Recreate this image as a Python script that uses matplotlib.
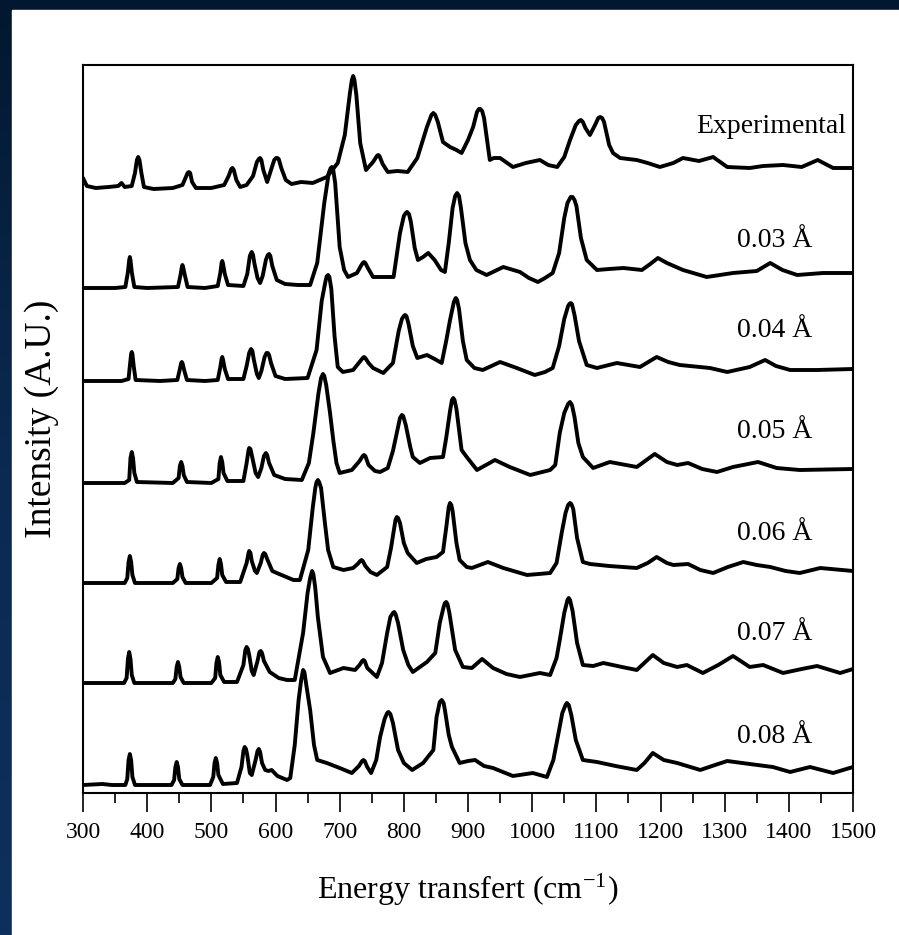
import numpy as np
import matplotlib.pyplot as plt
from matplotlib.patches import Rectangle
from matplotlib.colors import LinearSegmentedColormap
from matplotlib.ticker import MultipleLocator

plt.rcParams['font.family'] = ['Liberation Serif', 'DejaVu Serif']
plt.rcParams['mathtext.fontset'] = 'stix'

# (wavenumber cm-1, intensity above the curve's own baseline)
exp_pts = [(300, 10), (306, 2), (320, 0), (340, 1), (355, 2), (360, 5), (365, 1), (376, 2), (381, 15), (384, 28),
           (386, 31), (388, 28), (391, 15), (395, 1), (410, -1), (440, 0), (455, 3), (461, 12), (463, 15), (465, 16),
           (467, 15), (470, 6), (476, 0), (500, 0), (520, 3), (527, 12), (531, 19), (533, 20), (535, 18), (539, 8),
           (545, 1), (555, 3), (565, 12), (571, 26), (574, 29), (576, 30), (578, 28), (581, 18), (587, 6), (592, 16),
           (598, 28), (601, 30), (603, 30), (605, 29), (609, 20), (616, 8), (625, 4), (640, 6), (658, 5), (680, 11),
           (697, 25), (708, 53), (716, 95), (719, 108), (721, 112), (723, 108), (726, 93), (732, 45), (741, 18),
           (752, 26), (758, 32), (760, 33), (762, 32), (767, 24), (775, 16), (790, 17), (806, 16), (821, 30),
           (836, 61), (843, 73), (846, 75), (849, 73), (853, 66), (861, 46), (872, 41), (882, 38), (890, 35),
           (900, 48), (908, 61), (914, 76), (917, 79), (919, 79), (922, 77), (925, 70), (934, 28), (940, 30),
           (950, 30), (970, 21), (990, 25), (1012, 28), (1025, 23), (1039, 21), (1050, 31), (1059, 48), (1068, 63),
           (1073, 67), (1076, 68), (1079, 66), (1083, 60), (1090, 53), (1098, 63), (1103, 70), (1106, 71),
           (1109, 70), (1112, 66), (1120, 43), (1126, 35), (1137, 30), (1163, 28), (1180, 25), (1199, 21),
           (1220, 25), (1235, 30), (1260, 27), (1282, 31), (1304, 21), (1339, 20), (1360, 22), (1391, 23),
           (1420, 21), (1445, 28), (1469, 20), (1500, 20)]

s003_pts = [(300, 0), (350, 0), (366, 1), (370, 16), (372, 28), (373, 31), (374, 28), (376, 16), (380, 1), (400, 0),
            (448, 1), (452, 13), (454, 21), (455, 23), (456, 21), (459, 12), (463, 1), (490, 0), (510, 2), (514, 15),
            (516, 25), (517, 27), (518, 25), (521, 14), (526, 3), (550, 2), (556, 14), (560, 32), (562, 35),
            (563, 36), (565, 33), (567, 25), (572, 10), (576, 5), (580, 12), (585, 28), (588, 33), (590, 34),
            (592, 32), (595, 22), (602, 8), (615, 4), (635, 3), (654, 3), (665, 25), (676, 85), (683, 115),
            (686, 120), (688, 121), (690, 118), (693, 105), (700, 41), (707, 18), (713, 11), (727, 15), (733, 22),
            (736, 25), (738, 26), (740, 25), (744, 20), (752, 11), (770, 11), (784, 11), (794, 55), (800, 72),
            (803, 75), (805, 76), (808, 74), (811, 66), (817, 40), (822, 28), (830, 31), (838, 35), (848, 28),
            (858, 18), (864, 16), (870, 45), (876, 80), (880, 92), (883, 95), (886, 92), (889, 80), (896, 45),
            (903, 28), (913, 18), (929, 13), (955, 21), (981, 16), (995, 10), (1009, 6), (1020, 10), (1032, 15),
            (1042, 35), (1050, 70), (1055, 85), (1060, 91), (1063, 91), (1066, 88), (1069, 82), (1076, 50),
            (1085, 28), (1101, 18), (1120, 19), (1142, 20), (1171, 18), (1184, 24), (1196, 30), (1210, 25),
            (1235, 18), (1272, 11), (1313, 15), (1350, 17), (1371, 25), (1390, 18), (1413, 13), (1453, 15),
            (1500, 15)]

s004_pts = [(300, 0), (360, 0), (371, 2), (373, 15), (375, 27), (376, 29), (377, 27), (379, 15), (382, 1), (420, 0),
            (447, 1), (451, 12), (453, 18), (454, 19), (455, 18), (458, 10), (462, 1), (490, 0), (510, 1), (514, 14),
            (516, 22), (517, 24), (518, 22), (521, 12), (526, 2), (550, 2), (555, 15), (559, 28), (561, 31),
            (562, 32), (564, 30), (566, 22), (571, 7), (574, 3), (578, 10), (583, 24), (586, 28), (588, 28),
            (590, 26), (593, 18), (600, 5), (615, 2), (650, 3), (664, 31), (672, 80), (678, 100), (680, 105),
            (682, 106), (684, 104), (687, 92), (692, 45), (697, 14), (705, 9), (721, 11), (731, 19), (736, 23),
            (738, 24), (740, 23), (745, 18), (752, 13), (768, 8), (783, 18), (792, 50), (797, 62), (800, 65),
            (802, 66), (804, 65), (807, 58), (814, 35), (821, 23), (836, 26), (848, 22), (859, 18), (866, 40),
            (872, 61), (878, 79), (880, 82), (881, 83), (883, 81), (886, 72), (892, 40), (898, 21), (910, 13),
            (923, 11), (950, 19), (976, 13), (1004, 6), (1020, 9), (1032, 13), (1042, 35), (1050, 62), (1056, 75),
            (1058, 77), (1060, 78), (1062, 77), (1066, 66), (1073, 40), (1085, 16), (1101, 13), (1132, 18),
            (1168, 14), (1194, 24), (1212, 19), (1230, 16), (1277, 13), (1304, 9), (1339, 14), (1363, 21),
            (1380, 15), (1402, 11), (1444, 11), (1500, 12)]

s005_pts = [(300, 0), (365, 0), (372, 3), (374, 25), (376, 31), (378, 25), (380, 10), (384, 1), (440, 0), (449, 5),
            (451, 17), (453, 21), (455, 17), (457, 8), (462, 1), (500, 0), (511, 4), (513, 20), (515, 26), (517, 21),
            (519, 10), (525, 2), (550, 2), (555, 20), (558, 33), (559, 35), (561, 34), (563, 28), (569, 10),
            (573, 6), (578, 15), (582, 27), (585, 30), (587, 28), (590, 20), (598, 8), (615, 4), (641, 3), (652, 20),
            (659, 50), (667, 90), (671, 105), (674, 109), (676, 107), (679, 98), (685, 70), (690, 43), (695, 20),
            (700, 10), (719, 13), (731, 22), (736, 27), (738, 28), (740, 27), (745, 18), (755, 12), (763, 11),
            (775, 15), (783, 32), (789, 50), (794, 65), (797, 68), (799, 67), (803, 58), (810, 36), (814, 26),
            (825, 20), (841, 25), (861, 26), (866, 45), (872, 72), (875, 83), (877, 85), (879, 83), (882, 74),
            (890, 33), (898, 26), (914, 13), (928, 18), (942, 23), (965, 16), (997, 8), (1028, 13), (1036, 18),
            (1043, 50), (1050, 70), (1056, 79), (1059, 81), (1062, 78), (1066, 66), (1072, 40), (1079, 26),
            (1095, 15), (1121, 21), (1163, 16), (1191, 29), (1210, 21), (1226, 18), (1243, 20), (1265, 14),
            (1288, 11), (1313, 16), (1352, 21), (1381, 15), (1417, 13), (1500, 14)]

s006_pts = [(300, 0), (365, 0), (369, 5), (371, 21), (373, 27), (375, 21), (377, 8), (381, 0), (440, 0), (447, 4),
            (449, 15), (451, 19), (453, 15), (455, 6), (460, 0), (500, 0), (509, 5), (511, 18), (513, 24), (515, 19),
            (517, 8), (523, 1), (545, 1), (555, 20), (558, 30), (559, 32), (561, 30), (563, 22), (568, 12),
            (571, 10), (577, 20), (580, 28), (582, 30), (584, 29), (587, 24), (595, 12), (602, 10), (628, 3),
            (638, 3), (651, 33), (658, 75), (662, 95), (664, 101), (666, 103), (668, 101), (671, 95), (677, 60),
            (682, 33), (690, 16), (706, 13), (721, 15), (728, 19), (732, 22), (734, 23), (736, 22), (740, 17),
            (748, 11), (758, 8), (774, 16), (780, 35), (785, 55), (787, 63), (789, 66), (791, 65), (794, 60),
            (800, 40), (806, 30), (820, 20), (835, 24), (851, 26), (861, 31), (866, 55), (870, 76), (872, 80),
            (874, 78), (876, 72), (882, 40), (887, 23), (898, 16), (906, 15), (931, 21), (955, 15), (992, 8),
            (1028, 10), (1038, 20), (1046, 50), (1052, 70), (1056, 78), (1059, 80), (1061, 79), (1064, 74),
            (1070, 45), (1079, 21), (1090, 19), (1120, 17), (1163, 15), (1180, 20), (1194, 26), (1210, 20),
            (1220, 18), (1243, 19), (1262, 13), (1282, 10), (1305, 16), (1329, 21), (1350, 18), (1371, 16),
            (1395, 12), (1417, 10), (1449, 15), (1500, 12)]

s007_pts = [(300, 0), (364, 0), (368, 5), (370, 24), (372, 31), (374, 24), (376, 8), (380, 0), (440, 0), (444, 4),
            (446, 16), (448, 21), (450, 16), (452, 6), (457, 0), (500, 0), (506, 5), (508, 20), (510, 26), (512, 21),
            (514, 8), (520, 1), (540, 1), (550, 18), (553, 33), (555, 36), (557, 34), (559, 28), (563, 12),
            (566, 8), (572, 22), (575, 31), (577, 32), (579, 30), (582, 22), (591, 11), (605, 5), (618, 3),
            (630, 3), (643, 50), (650, 90), (654, 105), (657, 112), (659, 109), (662, 95), (666, 66), (674, 26),
            (685, 10), (706, 15), (724, 13), (731, 18), (735, 22), (737, 23), (739, 22), (743, 15), (758, 6),
            (766, 20), (774, 50), (779, 66), (783, 70), (785, 71), (787, 69), (791, 60), (799, 33), (807, 18),
            (814, 11), (836, 21), (849, 30), (856, 60), (862, 76), (864, 80), (866, 81), (868, 79), (871, 70),
            (880, 33), (892, 16), (906, 15), (922, 24), (939, 15), (960, 9), (981, 6), (1012, 10), (1028, 8),
            (1038, 25), (1043, 43), (1050, 70), (1055, 83), (1057, 85), (1059, 83), (1063, 72), (1070, 40),
            (1079, 18), (1095, 17), (1111, 20), (1140, 16), (1163, 13), (1188, 28), (1205, 20), (1226, 16),
            (1241, 18), (1266, 10), (1290, 18), (1313, 27), (1325, 22), (1339, 16), (1360, 18), (1391, 10),
            (1420, 14), (1444, 17), (1480, 10), (1500, 14)]

s008_pts = [(300, 0), (330, 1), (345, 0), (366, 0), (369, 6), (371, 25), (373, 31), (375, 25), (377, 8), (381, 0),
            (420, 0), (438, 0), (442, 5), (444, 18), (446, 23), (448, 18), (450, 6), (455, 0), (498, 0), (503, 8),
            (505, 22), (507, 27), (509, 22), (511, 10), (518, 1), (540, 2), (547, 18), (550, 34), (552, 38),
            (554, 36), (556, 30), (560, 12), (563, 10), (569, 25), (572, 34), (574, 36), (576, 33), (579, 22),
            (584, 15), (589, 14), (594, 15), (603, 9), (618, 5), (623, 7), (630, 40), (636, 85), (640, 105),
            (643, 115), (645, 113), (648, 100), (654, 75), (660, 40), (665, 25), (680, 22), (700, 17), (719, 12),
            (730, 19), (735, 24), (737, 25), (739, 24), (743, 18), (749, 12), (757, 25), (763, 48), (770, 66),
            (774, 72), (776, 73), (779, 71), (783, 62), (791, 35), (800, 22), (813, 15), (830, 22), (846, 35),
            (851, 68), (856, 83), (859, 85), (862, 82), (864, 75), (870, 50), (875, 38), (887, 22), (900, 24),
            (911, 25), (925, 19), (939, 17), (970, 9), (1001, 12), (1023, 8), (1033, 25), (1039, 45), (1047, 72),
            (1052, 80), (1054, 82), (1057, 80), (1061, 70), (1068, 45), (1079, 25), (1101, 23), (1130, 19),
            (1163, 15), (1175, 22), (1188, 32), (1205, 25), (1226, 22), (1262, 15), (1285, 20), (1304, 24),
            (1339, 21), (1375, 18), (1402, 13), (1433, 18), (1469, 12), (1500, 18)]

spectra = [exp_pts, s003_pts, s004_pts, s005_pts, s006_pts, s007_pts, s008_pts]
labels = ['Experimental', u'0.03 \u00c5', u'0.04 \u00c5', u'0.05 \u00c5', u'0.06 \u00c5', u'0.07 \u00c5', u'0.08 \u00c5']
offsets = [605, 505, 412, 310, 210, 110, 8]
label_x = [1372, 1378, 1378, 1378, 1378, 1378, 1378]
label_y = [660, 546, 456, 355, 253, 153, 50]

fig = plt.figure(figsize=(8.99, 9.35), dpi=100)

# navy backdrop with white panel
bg = fig.add_axes([0, 0, 1, 1], zorder=-10)
grad = np.linspace(0, 1, 256).reshape(-1, 1)
navy = LinearSegmentedColormap.from_list('navy', ['#021830', '#0b2a52', '#0e305e'])
bg.imshow(grad, aspect='auto', extent=[0, 1, 0, 1], origin='upper', cmap=navy)
bg.add_patch(Rectangle((12 / 899, 0), 1, 1 - 10 / 935, color='white', zorder=2))
bg.set_xlim(0, 1)
bg.set_ylim(0, 1)
bg.axis('off')

ax = fig.add_axes([83 / 899, 1 - 793 / 935, 770 / 899, 728 / 935])
for pts, off in zip(spectra, offsets):
  x, y = np.array(pts, dtype=float).T
  ax.plot(x, y + off, color='black', lw=2.8, solid_joinstyle='round', solid_capstyle='round')
for lab, lx, ly in zip(labels, label_x, label_y):
  ax.text(lx, ly, lab, ha='center', va='baseline', fontsize=20)

ax.set_xlim(300, 1500)
ax.set_ylim(0, 728)
ax.set_yticks([])
ax.xaxis.set_major_locator(MultipleLocator(100))
ax.xaxis.set_minor_locator(MultipleLocator(50))
ax.tick_params(axis='x', which='major', direction='out', length=14, width=1.2, labelsize=17, pad=7)
ax.tick_params(axis='x', which='minor', direction='out', length=7, width=1.2)
for sp in ax.spines.values():
  sp.set_linewidth(1.5)
ax.set_xlabel(r'Energy transfert (cm$^{\mathregular{-1}}$)', fontsize=23, labelpad=20)
fig.text(42 / 899, 1 - 419 / 935, 'Intensity (A.U.)', rotation=90, ha='center', va='center', fontsize=27)

fig.savefig('out.png', dpi=100)
